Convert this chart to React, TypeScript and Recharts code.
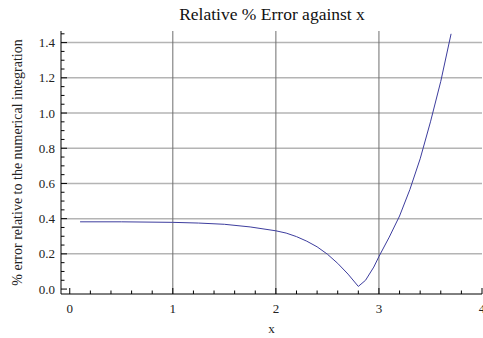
import { LineChart, Line, XAxis, YAxis, ReferenceLine, Label } from 'recharts';

const xValues = [0.1, 0.5, 1.0, 1.25, 1.5, 1.75, 2.0, 2.1, 2.2, 2.3, 2.4, 2.5, 2.6, 2.7, 2.8, 2.87, 2.95, 3.0, 3.1, 3.2, 3.3, 3.4, 3.5, 3.6, 3.7];
const errorValues = [0.382, 0.382, 0.379, 0.375, 0.368, 0.353, 0.331, 0.318, 0.298, 0.272, 0.24, 0.198, 0.146, 0.085, 0.015, 0.05, 0.125, 0.185, 0.295, 0.415, 0.565, 0.74, 0.95, 1.18, 1.45];

const xMajorTicks = [0, 1, 2, 3, 4];
const xMinorTicks = [0.2, 0.4, 0.6, 0.8, 1.2, 1.4, 1.6, 1.8, 2.2, 2.4, 2.6, 2.8, 3.2, 3.4, 3.6, 3.8];
const yMajorTicks = [0, 0.2, 0.4, 0.6, 0.8, 1.0, 1.2, 1.4];
const yMinorTicks = [
  0.05, 0.1, 0.15, 0.25, 0.3, 0.35, 0.45, 0.5, 0.55, 0.65, 0.7, 0.75,
  0.85, 0.9, 0.95, 1.05, 1.1, 1.15, 1.25, 1.3, 1.35, 1.45,
];
const xGridLines = [1, 2, 3];
const yGridLines = [0.2, 0.4, 0.6, 0.8, 1.0, 1.2, 1.4];

const xDomain: [number, number] = [-0.085, 4];
const yDomain: [number, number] = [-0.028, 1.466];

const FONT = '"Liberation Serif", "Times New Roman", serif';
const TEXT = '#222';
const MAJOR = 6;
const MINOR = 3.5;

const data = xValues.map((x, i) => ({ x, err: errorValues[i] }));
const xTicks = [...xMajorTicks, ...xMinorTicks].sort((a, b) => a - b);
const yTicks = [...yMajorTicks, ...yMinorTicks].sort((a, b) => a - b);

const LeftTick = ({ x, y, payload }: any) => {
  const major = yMajorTicks.includes(payload.value);
  return (
    <g>
      <line x1={x} x2={x + (major ? MAJOR : MINOR)} y1={y} y2={y} stroke="#000" />
      {major && (
        <text x={x - 6} y={y} dy="0.35em" textAnchor="end" fontFamily={FONT} fontSize={13} fill={TEXT}>
          {payload.value.toFixed(1)}
        </text>
      )}
    </g>
  );
};

const RightTick = ({ x, y, payload }: any) => {
  const major = yMajorTicks.includes(payload.value);
  return <line x1={x} x2={x - (major ? MAJOR : MINOR)} y1={y} y2={y} stroke="#000" />;
};

const BottomTick = ({ x, y, payload }: any) => {
  const major = xMajorTicks.includes(payload.value);
  return (
    <g>
      <line x1={x} x2={x} y1={y} y2={y - (major ? MAJOR : MINOR)} stroke="#000" />
      {major && (
        <text x={x} y={y + 18.5} textAnchor="middle" fontFamily={FONT} fontSize={13} fill={TEXT}>
          {payload.value}
        </text>
      )}
    </g>
  );
};

const TopTick = ({ x, y, payload }: any) => {
  const major = xMajorTicks.includes(payload.value);
  return <line x1={x} x2={x} y1={y} y2={y + (major ? MAJOR : MINOR)} stroke="#000" />;
};

export default function App() {
  return (
    <div style={{ position: 'absolute', left: 0, top: 0, width: 483, height: 338, background: '#fff' }}>
      <LineChart width={483} height={338} data={data} margin={{ top: 31, right: 1, bottom: 0, left: 0 }}>
        <text x={272} y={20} textAnchor="middle" fontFamily={FONT} fontSize={17.5} fill="#111">
          Relative % Error against x
        </text>
        <XAxis
          dataKey="x"
          type="number"
          domain={xDomain}
          ticks={xTicks}
          interval={0}
          allowDataOverflow
          height={44}
          tickSize={0}
          tickMargin={0}
          tickLine={false}
          tick={<BottomTick />}
          axisLine={{ stroke: '#000' }}
        >
          <Label
            content={({ viewBox }: any) => (
              <text x={viewBox.x + viewBox.width / 2} y={333} textAnchor="middle" fontFamily={FONT} fontSize={13} fill={TEXT}>
                x
              </text>
            )}
          />
        </XAxis>
        <XAxis
          xAxisId="top"
          orientation="top"
          type="number"
          domain={xDomain}
          ticks={xTicks}
          interval={0}
          allowDataOverflow
          height={0}
          tickSize={0}
          tickMargin={0}
          tickLine={false}
          tick={<TopTick />}
          axisLine={{ stroke: '#000' }}
        />
        <YAxis
          type="number"
          domain={yDomain}
          ticks={yTicks}
          interval={0}
          allowDataOverflow
          width={61}
          tickSize={0}
          tickMargin={0}
          tickLine={false}
          tick={<LeftTick />}
          axisLine={{ stroke: '#000' }}
        >
          <Label
            content={({ viewBox }: any) => {
              const cy = viewBox.y + viewBox.height / 2;
              return (
                <text
                  x={22}
                  y={cy}
                  transform={`rotate(-90 22 ${cy})`}
                  textAnchor="middle"
                  fontFamily={FONT}
                  fontSize={14}
                  fill={TEXT}
                >
                  % error relative to the numerical integration
                </text>
              );
            }}
          />
        </YAxis>
        <YAxis
          yAxisId="right"
          orientation="right"
          type="number"
          domain={yDomain}
          ticks={yTicks}
          interval={0}
          allowDataOverflow
          width={0}
          tickSize={0}
          tickMargin={0}
          tickLine={false}
          tick={<RightTick />}
          axisLine={{ stroke: '#000' }}
        />
        {yGridLines.map((v) => (
          <ReferenceLine key={'y' + v} y={v} stroke="#b4b4b4" strokeWidth={1.5} ifOverflow="hidden" />
        ))}
        {xGridLines.map((v) => (
          <ReferenceLine key={'x' + v} x={v} stroke="#6e6e6e" strokeWidth={1} ifOverflow="hidden" />
        ))}
        <Line
          type="linear"
          dataKey="err"
          stroke="#3d3d9e"
          strokeWidth={1}
          dot={false}
          isAnimationActive={false}
        />
      </LineChart>
    </div>
  );
}
